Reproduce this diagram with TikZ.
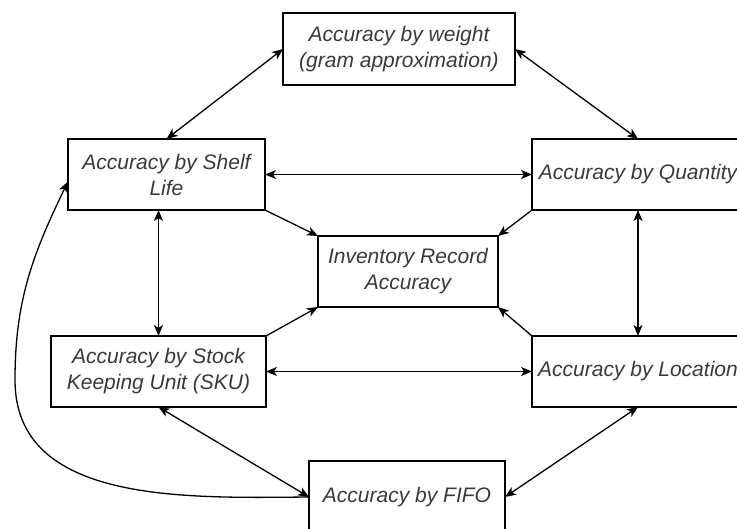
\documentclass[tikz,border=0pt]{standalone}
\usepackage{fontspec}
\setmainfont{Liberation Sans}
\usetikzlibrary{arrows.meta,calc}
\definecolor{txt}{HTML}{3A3A3A}
\tikzset{
  box/.style={draw=black, line width=1.4pt, fill=white, inner sep=0pt, outer sep=0pt,
    align=center, text=txt, font=\fontsize{21}{26}\selectfont\itshape},
  link/.style={draw=black, line width=1.3pt},
  tip/.tip={Stealth[length=11pt,width=9pt,inset=3pt]},
}
\begin{document}
\begin{tikzpicture}[x=1pt,y=-1pt]
\path[use as bounding box, clip] (0,0) rectangle (737,528);
\fill[white] (0,0) rectangle (737,528);
\node[box, minimum width=232pt, minimum height=72pt] (weight) at (399,49) {Accuracy by weight\\(gram approximation)};
\node[box, minimum width=197pt, minimum height=71pt] (shelf) at (166.5,174.5) {Accuracy by Shelf\\Life};
\node[box, minimum width=212pt, minimum height=71pt] (quant) at (638,174.5) {Accuracy by Quantity};
\node[box, minimum width=180pt, minimum height=71pt] (central) at (408,271.5) {Inventory Record\\Accuracy};
\node[box, minimum width=215pt, minimum height=71pt] (sku) at (158.5,371.5) {Accuracy by Stock\\Keeping Unit (SKU)};
\node[box, minimum width=212pt, minimum height=71pt] (loc) at (638,371.5) {Accuracy by Location};
\node[box, minimum width=196pt, minimum height=72pt] (fifo) at (407,497) {Accuracy by FIFO};
\coordinate (shelfin) at ($(shelf.west)+(0,7)$);
\path[link, tip-tip] (weight.west) -- (shelf.north);
\path[link, tip-tip] (weight.east) -- (quant.north);
\path[link, tip-tip] (shelf.east) -- (quant.west);
\path[link, -tip] (shelf.south east) -- (central.north west);
\path[link, -tip] (quant.south west) -- (central.north east);
\path[link, -tip] (sku.north east) -- (central.south west);
\path[link, -tip] (loc.north west) -- (central.south east);
\path[link, tip-tip] (sku.north |- shelf.south) -- (sku.north);
\path[link, tip-tip] (quant.south) -- (loc.north);
\path[link, tip-tip] (sku.east) -- (loc.west);
\path[link, tip-tip] (sku.south) -- (fifo.west);
\path[link, tip-tip] (loc.south) -- (fifo.east);
\path[link, -tip] (fifo.west) .. controls (185,498) and (15,504) .. (15,380)
   .. controls (15,300) and (33,254) .. (shelfin);
\end{tikzpicture}
\end{document}
